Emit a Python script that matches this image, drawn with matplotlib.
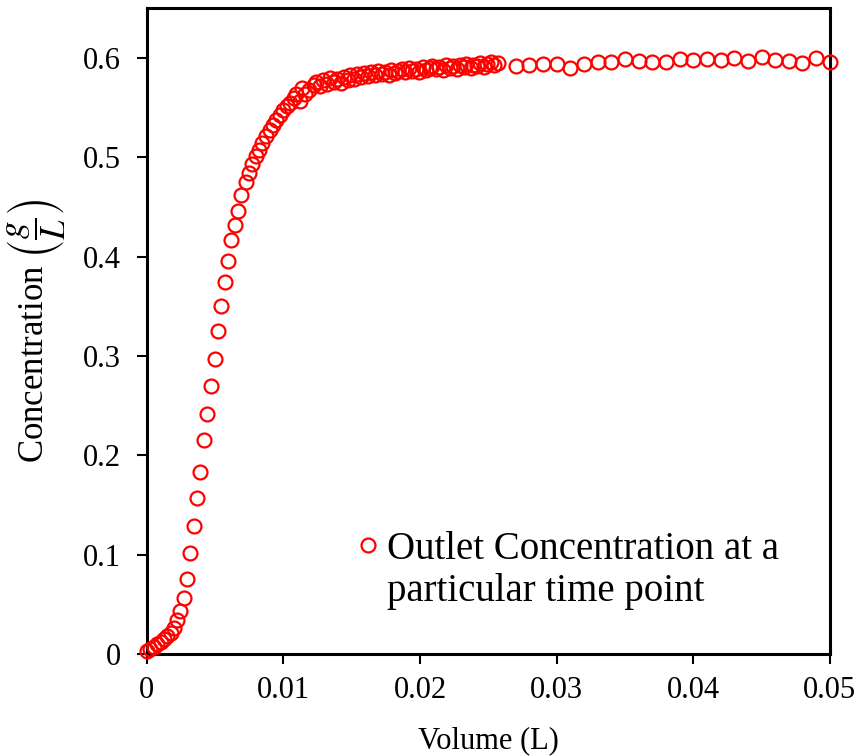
import matplotlib
matplotlib.use('Agg')
import matplotlib.pyplot as plt

plt.rcParams['font.family'] = ['Liberation Serif', 'DejaVu Serif']
plt.rcParams['mathtext.fontset'] = 'stix'

# Volume (L) and outlet concentration (g/L)
volume = [
    0.0, 0.00025, 0.0005, 0.00075, 0.001, 0.00125, 0.0015, 0.00175, 0.002, 0.0022,
    0.0024, 0.0027, 0.00295, 0.00317, 0.00346, 0.0037, 0.00392, 0.00421, 0.00443, 0.00466,
    0.00499, 0.00519, 0.00543, 0.00572, 0.00592, 0.00616, 0.00645, 0.00665, 0.00692, 0.00724,
    0.00746, 0.0077, 0.00797, 0.00821, 0.00846, 0.00875, 0.00899, 0.00923, 0.00948, 0.00972,
    0.0100, 0.01026, 0.0105, 0.01075, 0.0109, 0.0112, 0.01135, 0.0116, 0.0119, 0.0122,
    0.0124, 0.0127, 0.0129, 0.0132, 0.0134, 0.0137, 0.0139, 0.0142, 0.0144, 0.0147,
    0.0149, 0.0152, 0.0154, 0.0157, 0.0159, 0.0162, 0.0164, 0.0167, 0.0169, 0.0172,
    0.0174, 0.0177, 0.0179, 0.0182, 0.0184, 0.0187, 0.0189, 0.0192, 0.0194, 0.0197,
    0.0199, 0.0202, 0.0204, 0.0207, 0.0209, 0.0212, 0.0214, 0.0217, 0.0219, 0.0222,
    0.0224, 0.0227, 0.0229, 0.0232, 0.0234, 0.0237, 0.0239, 0.0242, 0.0244, 0.0247,
    0.0249, 0.0252, 0.0254, 0.0257,
    0.027, 0.028, 0.029, 0.030, 0.031, 0.032, 0.033, 0.034, 0.035, 0.036,
    0.037, 0.038, 0.039, 0.040, 0.041, 0.042, 0.043, 0.044, 0.045, 0.046,
    0.047, 0.048, 0.049, 0.050,
]
concentration = [
    0.003, 0.005, 0.007, 0.010, 0.0125, 0.015, 0.018, 0.021, 0.026, 0.034,
    0.043, 0.056, 0.075, 0.102, 0.129, 0.157, 0.183, 0.215, 0.242, 0.270,
    0.297, 0.325, 0.350, 0.374, 0.396, 0.417, 0.432, 0.446, 0.462, 0.475,
    0.484, 0.493, 0.501, 0.507, 0.514, 0.521, 0.527, 0.533, 0.538, 0.543,
    0.548, 0.552, 0.555, 0.560, 0.564, 0.557, 0.570, 0.564, 0.568, 0.573,
    0.576, 0.572, 0.578, 0.574, 0.580, 0.576, 0.579, 0.575, 0.581, 0.578,
    0.583, 0.579, 0.584, 0.581, 0.585, 0.582, 0.586, 0.583, 0.587, 0.584,
    0.586, 0.583, 0.588, 0.585, 0.587, 0.589, 0.586, 0.590, 0.587, 0.589,
    0.586, 0.591, 0.588, 0.590, 0.592, 0.589, 0.591, 0.588, 0.593, 0.590,
    0.592, 0.589, 0.593, 0.591, 0.594, 0.590, 0.593, 0.592, 0.595, 0.591,
    0.594, 0.596, 0.593, 0.595,
    0.592, 0.593, 0.594, 0.5937, 0.5896, 0.5943, 0.5963, 0.5957, 0.599, 0.5973,
    0.5963, 0.596, 0.5993, 0.598, 0.5987, 0.5977, 0.600, 0.597, 0.6005, 0.598,
    0.5967, 0.5947, 0.600, 0.5963,
]

fig = plt.figure(figsize=(8.59, 7.56), dpi=100)
ax = fig.add_axes([0.171, 0.135, 0.795, 0.854])

ax.plot(volume, concentration, linestyle='none', marker='o', markersize=10,
        markerfacecolor='none', markeredgecolor='#ff0000', markeredgewidth=1.6,
        clip_on=False, zorder=3, label='Outlet Concentration at a')

ax.set_xlim(0, 0.05)
ax.set_ylim(0, 0.65)
ax.set_xticks([0, 0.01, 0.02, 0.03, 0.04, 0.05])
ax.set_xticklabels(['0', '0.01', '0.02', '0.03', '0.04', '0.05'])
ax.set_yticks([0, 0.1, 0.2, 0.3, 0.4, 0.5, 0.6])
ax.set_yticklabels(['0', '0.1', '0.2', '0.3', '0.4', '0.5', '0.6'])
ax.tick_params(direction='out', length=7, width=1.5, labelsize=22)
ax.tick_params(axis='y', pad=12)
ax.tick_params(axis='x', pad=9)

for s in ax.spines.values():
    s.set_linewidth(2.2)

ax.set_xlabel('Volume (L)', fontsize=22, labelpad=15)
ax.set_ylabel(r'Concentration $\left(\dfrac{g}{L}\right)$', fontsize=25, labelpad=11)

ax.legend(loc='center left', bbox_to_anchor=(0.3037, 0.1625), frameon=False, fontsize=28,
          borderpad=0, borderaxespad=0, handletextpad=0.15, handlelength=0.7)
ax.text(0.351, 0.096, 'particular time point', transform=ax.transAxes,
        fontsize=28, ha='left', va='center')

fig.savefig('out.png', dpi=100)
